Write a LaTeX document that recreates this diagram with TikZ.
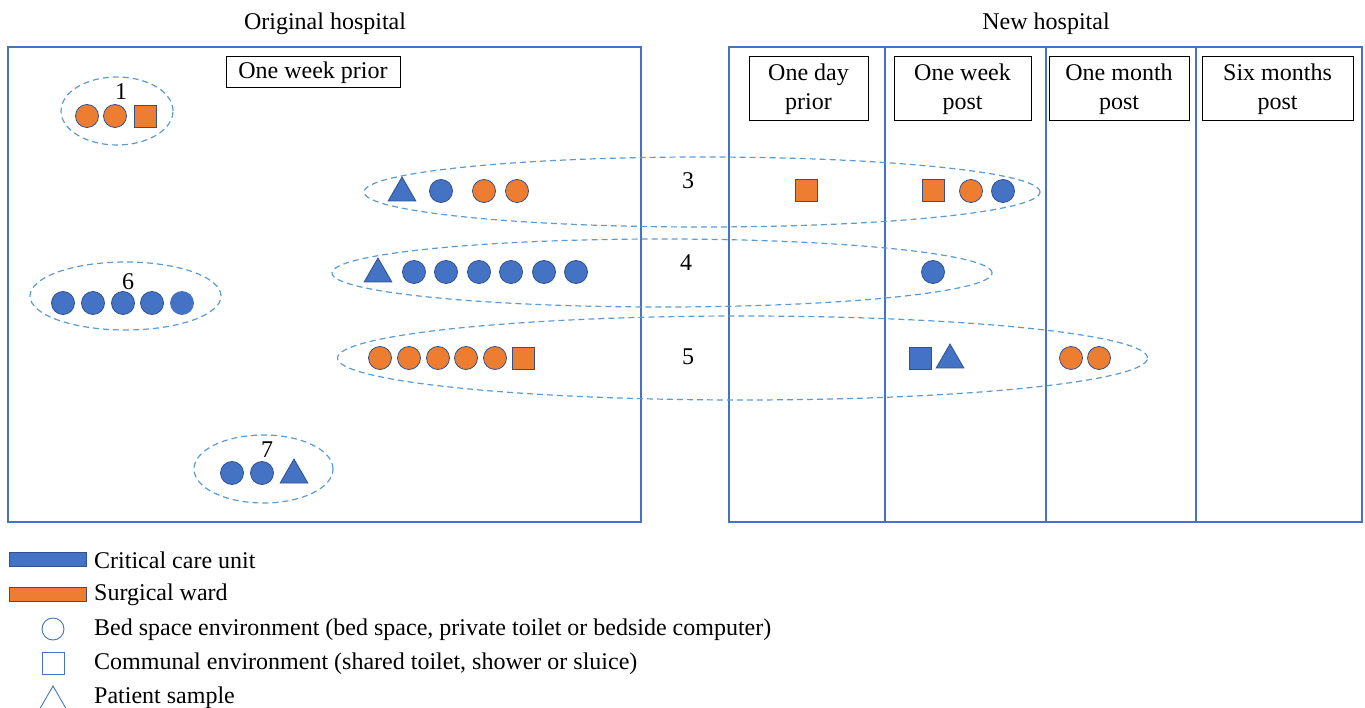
\documentclass[tikz,border=0pt]{standalone}
\usepackage{fontspec}
\setmainfont{Liberation Serif}
\usetikzlibrary{shapes.geometric}
\definecolor{ccu}{HTML}{4472C4}
\definecolor{edge}{HTML}{2F528F}
\definecolor{surg}{HTML}{ED7D31}
\definecolor{grpline}{HTML}{5B9BD5}
\begin{document}
\begin{tikzpicture}[x=1pt,y=-1pt,
  every node/.style={font=\fontsize{24}{29}\selectfont, inner sep=0pt},
  frame/.style={draw=ccu, line width=1.1pt, minimum height=475},
  divider/.style={draw=ccu, line width=1.1pt},
  period/.style={draw=black, line width=1pt, align=center},
  grp/.style={ellipse, draw=grpline, line width=1.2pt, dash pattern=on 6pt off 4pt},
  bluedot/.style={circle, fill=ccu, draw=edge, line width=0.8pt, minimum size=23},
  orangedot/.style={circle, fill=surg, draw=edge, line width=0.8pt, minimum size=23},
  bluesq/.style={rectangle, fill=ccu, draw=edge, line width=0.8pt, minimum size=22},
  orangesq/.style={rectangle, fill=surg, draw=edge, line width=0.8pt, minimum size=22},
  bluetri/.style={regular polygon, regular polygon sides=3, fill=ccu, draw=edge, line width=0.8pt, minimum size=32},
  keybar/.style={rectangle, draw=edge, line width=0.8pt, minimum width=77, minimum height=14},
  keyshape/.style={draw=ccu, line width=0.9pt},
  keytext/.style={anchor=west},
]
\useasboundingbox (0,0) rectangle (1365,708);

% hospital frames and titles
\node[frame, minimum width=633] (orig) at (324.5,284.5) {};
\node[frame, minimum width=633] (newh) at (1045.5,284.5) {};
\node (origT) at (325,24) {Original hospital};
\node (newT) at (1046,24) {New hospital};
\coordinate (d1t) at (885,47);  \coordinate (d1b) at (885,522);
\coordinate (d2t) at (1046,47); \coordinate (d2b) at (1046,522);
\coordinate (d3t) at (1196,47); \coordinate (d3b) at (1196,522);
\draw[divider] (d1t) -- (d1b);
\draw[divider] (d2t) -- (d2b);
\draw[divider] (d3t) -- (d3b);

% sampling periods
\node[period, minimum width=174, minimum height=31] (p0) at (313,72.5) {One week prior};
\node[period, minimum width=119, minimum height=64] (p1) at (808.5,89) {One day\\prior};
\node[period, minimum width=137, minimum height=64] (p2) at (962.5,89) {One week\\post};
\node[period, minimum width=140, minimum height=64] (p3) at (1119,89) {One month\\post};
\node[period, minimum width=151, minimum height=64] (p4) at (1277.5,89) {Six months\\post};

% clusters
\node[grp, minimum width=112, minimum height=68] (g1) at (117,111) {};
\node (n1) at (121,92) {1};
\node[orangedot] (g1a) at (87,116) {};
\node[orangedot] (g1b) at (115,116) {};
\node[orangesq] (g1c) at (145,116) {};

\node[grp, minimum width=676, minimum height=70] (g3) at (702,192) {};
\node (n3) at (688,181) {3};
\node[bluetri] (g3a) at (402,193) {};
\node[bluedot] (g3b) at (441,191) {};
\node[orangedot] (g3c) at (484,191) {};
\node[orangedot] (g3d) at (517,191) {};
\node[orangesq] (g3e) at (806,190) {};
\node[orangesq] (g3f) at (933,190) {};
\node[orangedot] (g3g) at (971,191) {};
\node[bluedot] (g3h) at (1003,191) {};

\node[grp, minimum width=660, minimum height=68] (g4) at (662,273) {};
\node (n4) at (686,263) {4};
\node[bluetri] (g4a) at (378,274) {};
\node[bluedot] (g4b) at (414,272) {};
\node[bluedot] (g4c) at (446,272) {};
\node[bluedot] (g4d) at (479,272) {};
\node[bluedot] (g4e) at (511,272) {};
\node[bluedot] (g4f) at (544,272) {};
\node[bluedot] (g4g) at (576,272) {};
\node[bluedot] (g4h) at (933,272) {};

\node[grp, minimum width=810, minimum height=84] (g5) at (742.5,358) {};
\node (n5) at (688,357) {5};
\node[orangedot] (g5a) at (380,358) {};
\node[orangedot] (g5b) at (409,358) {};
\node[orangedot] (g5c) at (438,358) {};
\node[orangedot] (g5d) at (466,358) {};
\node[orangedot] (g5e) at (495,358) {};
\node[orangesq] (g5f) at (523,358) {};
\node[bluesq] (g5g) at (920,358) {};
\node[bluetri] (g5h) at (950,360) {};
\node[orangedot] (g5i) at (1071,358) {};
\node[orangedot] (g5j) at (1099,358) {};

\node[grp, minimum width=191, minimum height=68] (g6) at (125.5,296) {};
\node (n6) at (128,282) {6};
\node[bluedot] (g6a) at (63,303) {};
\node[bluedot] (g6b) at (93,303) {};
\node[bluedot] (g6c) at (123,303) {};
\node[bluedot] (g6d) at (152,303) {};
\node[bluedot, draw=ccu] (g6e) at (182,303) {};

\node[grp, minimum width=139, minimum height=68] (g7) at (263.5,469) {};
\node (n7) at (267,450) {7};
\node[bluedot] (g7a) at (232,473) {};
\node[bluedot] (g7b) at (262,473) {};
\node[bluetri] (g7c) at (294,475) {};

% key
\node[keybar, fill=ccu] (k1) at (47.5,559) {};
\node[keytext] (k1t) at (94,560) {Critical care unit};
\node[keybar, fill=surg] (k2) at (47.5,594) {};
\node[keytext] (k2t) at (94,595) {Surgical ward};
\node[keyshape, circle, minimum size=22] (k3) at (53,629) {};
\node[keytext] (k3t) at (94,630) {Bed space environment (bed space, private toilet or bedside computer)};
\node[keyshape, rectangle, minimum size=22] (k4) at (53,663) {};
\node[keytext] (k4t) at (94,664) {Communal environment (shared toilet, shower or sluice)};
\node[keyshape, regular polygon, regular polygon sides=3, minimum size=32] (k5) at (53,702) {};
\node[keytext] (k5t) at (94,698) {Patient sample};
\end{tikzpicture}
\end{document}
